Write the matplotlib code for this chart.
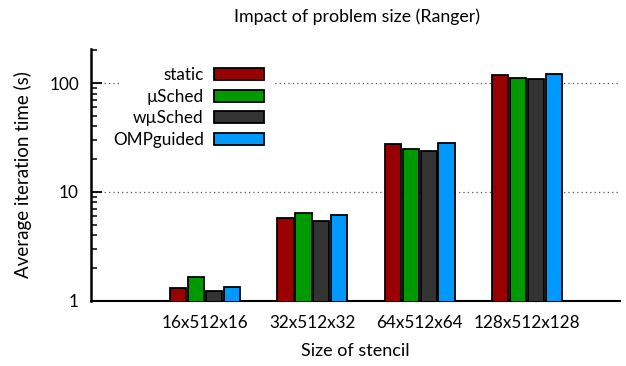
import numpy as np
import matplotlib.pyplot as plt
from matplotlib.patches import Rectangle
from matplotlib.ticker import FixedLocator, NullFormatter

plt.rcParams['font.family'] = ['Lato', 'DejaVu Sans']
plt.rcParams['font.size'] = 12.3

sizes = ['16x512x16', '32x512x32', '64x512x64', '128x512x128']
static = [1.30, 5.77, 27.4, 119]
usched = [1.67, 6.38, 24.6, 110]
wusched = [1.24, 5.45, 23.9, 109.6]
ompguided = [1.34, 6.19, 28.3, 121]

names = ['static', 'µSched', 'wµSched', 'OMPguided']
colors = ['#990000', '#009900', '#333333', '#0099ff']

fig = plt.figure(figsize=(6.26, 3.66), dpi=100)
ax = fig.add_axes([0.146, 0.178, 0.844, 0.688])

x = np.arange(len(sizes))
slot = 0.168
width = 0.15
for i, (vals, name, c) in enumerate(zip([static, usched, wusched, ompguided], names, colors)):
    ax.bar(x + (i - 1.5) * slot, vals, width, color=c, edgecolor='black',
           linewidth=1.3, label=name, zorder=3)

ax.set_yscale('log')
ax.set_ylim(1, 205)
ax.set_xlim(-1.065, 3.87)

# dotted grid only at the labelled decades
for g in [10, 100]:
    ax.axhline(g, color='#555555', linestyle=(0, (1, 2.5)), linewidth=0.9, zorder=1)

ax.yaxis.set_major_locator(FixedLocator([1, 10, 100]))
ax.set_yticklabels(['1', '10', '100'])
minors = [m * d for d in [1, 10, 100] for m in range(2, 10) if m * d < 205]
ax.yaxis.set_minor_locator(FixedLocator(minors))
ax.yaxis.set_minor_formatter(NullFormatter())
ax.tick_params(axis='y', which='major', direction='in', length=8, width=1.3, pad=9, labelsize=12.3)
ax.tick_params(axis='y', which='minor', direction='in', length=4.5, width=1.1)
ax.set_xticks(x)
ax.set_xticklabels(sizes)
ax.tick_params(axis='x', length=0, pad=10, labelsize=12.3)

ax.spines['top'].set_visible(False)
ax.spines['right'].set_visible(False)
ax.spines['left'].set_linewidth(1.8)
ax.spines['bottom'].set_linewidth(1.5)

ax.set_xlabel('Size of stencil', fontsize=13, labelpad=9)
ax.set_ylabel('Average iteration time (s)', fontsize=13.5, labelpad=12)
fig.text(0.571, 0.953, 'Impact of problem size (Ranger)', ha='center', va='center', fontsize=12.8)

# white patch behind the key so the grid breaks around it
ax.add_patch(Rectangle((120 / 626, 1 - 150 / 366), 153 / 626, 90 / 366,
                       transform=fig.transFigure, facecolor='white',
                       edgecolor='none', zorder=2))

leg = ax.legend(loc='upper right', bbox_to_anchor=(273 / 626, 1 - 58 / 366),
                bbox_transform=fig.transFigure, markerfirst=False, frameon=False,
                handlelength=2.9, handleheight=0.7, handletextpad=0.6,
                labelspacing=0.32, borderpad=0.55, borderaxespad=0, fontsize=12.3)
for t in leg.get_texts():
    t.set_ha('right')
leg.set_zorder(5)

fig.savefig('out.png', dpi=100)
